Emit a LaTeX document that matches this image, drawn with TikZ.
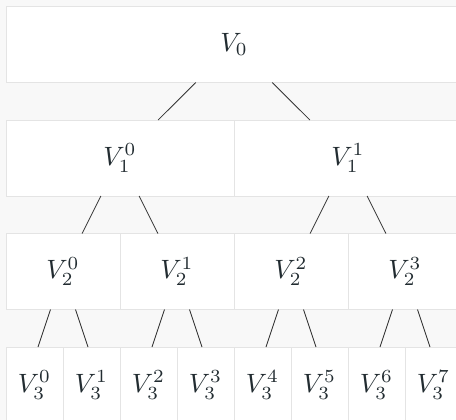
\documentclass[tikz,border=0pt]{standalone}
\usepackage{graphicx}
\usetikzlibrary{positioning}
\definecolor{bgcol}{HTML}{F8F8F8}
\definecolor{cellborder}{HTML}{E4E4E4}
\definecolor{textcol}{HTML}{222C31}
\definecolor{linecol}{HTML}{333333}
\newcommand{\vlbl}[1]{\scalebox{2.65}{$#1$}}
\tikzset{
  cell/.style={draw=cellborder, fill=white, line width=0.9pt, minimum height=76pt,
    inner sep=0pt, outer sep=0pt, text=textcol, anchor=north west},
  w1/.style={cell, minimum width=456pt},
  w2/.style={cell, minimum width=228pt},
  w3/.style={cell, minimum width=114pt},
  w4/.style={cell, minimum width=57pt},
  conn/.style={draw=linecol, line width=0.8pt}
}
\begin{document}
\begin{tikzpicture}[x=1pt, y=-1pt]
\fill[bgcol] (0,0) rectangle (456,420);
\useasboundingbox (0,0) rectangle (456,420);
% row 1
\node[w1] (v0) at (6,6.5) {\vlbl{V_0}};
% row 2
\node[w2] (v10) at (6,120) {\vlbl{V_1^0}};
\node[w2] (v11) at (234,120) {\vlbl{V_1^1}};
% row 3
\node[w3] (v20) at (6,233.5) {\vlbl{V_2^0}};
\node[w3] (v21) at (120,233.5) {\vlbl{V_2^1}};
\node[w3] (v22) at (234,233.5) {\vlbl{V_2^2}};
\node[w3] (v23) at (348,233.5) {\vlbl{V_2^3}};
% row 4
\node[w4] (v30) at (6,347) {\vlbl{V_3^0}};
\node[w4] (v31) at (63,347) {\vlbl{V_3^1}};
\node[w4] (v32) at (120,347) {\vlbl{V_3^2}};
\node[w4] (v33) at (177,347) {\vlbl{V_3^3}};
\node[w4] (v34) at (234,347) {\vlbl{V_3^4}};
\node[w4] (v35) at (291,347) {\vlbl{V_3^5}};
\node[w4] (v36) at (348,347) {\vlbl{V_3^6}};
\node[w4] (v37) at (405,347) {\vlbl{V_3^7}};
% connectors
\draw[conn] (v0) -- (v10);
\draw[conn] (v0) -- (v11);
\draw[conn] (v10) -- (v20);
\draw[conn] (v10) -- (v21);
\draw[conn] (v11) -- (v22);
\draw[conn] (v11) -- (v23);
\foreach \p/\a/\b in {v20/v30/v31, v21/v32/v33, v22/v34/v35, v23/v36/v37}{
  \draw[conn] ([xshift=-12.5pt]\p.south) -- ([xshift=3.5pt]\a.north);
  \draw[conn] ([xshift=12.5pt]\p.south) -- ([xshift=-3.5pt]\b.north);
}
\end{tikzpicture}
\end{document}
